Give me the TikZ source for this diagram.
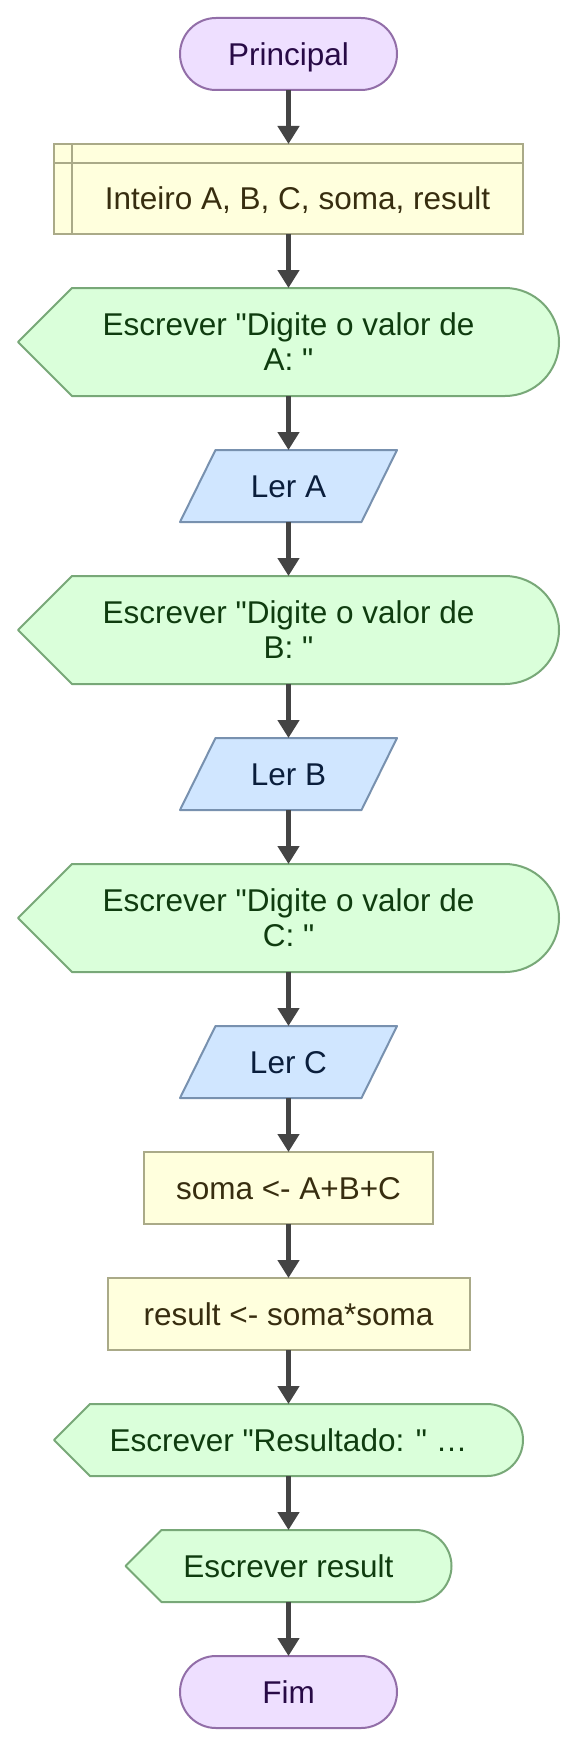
\documentclass[tikz,border=0pt]{standalone}
\usepackage{fontspec}
\setmainfont{Liberation Sans}
\newfontfamily\plainsans{Liberation Sans}
\usetikzlibrary{arrows.meta}
\pgfdeclarelayer{bg}
\pgfsetlayers{bg,main}
\definecolor{termfill}{RGB}{238,223,255}
\definecolor{termdraw}{RGB}{146,110,168}
\definecolor{termtext}{RGB}{40,10,70}
\definecolor{procfill}{RGB}{255,255,221}
\definecolor{procdraw}{RGB}{170,170,136}
\definecolor{proctext}{RGB}{55,45,15}
\definecolor{outfill}{RGB}{218,255,218}
\definecolor{outdraw}{RGB}{120,168,120}
\definecolor{outtext}{RGB}{15,60,15}
\definecolor{infill}{RGB}{208,230,255}
\definecolor{indraw}{RGB}{120,145,175}
\definecolor{intext}{RGB}{10,30,60}
\definecolor{arrcol}{RGB}{68,68,68}
\begin{document}
\begin{tikzpicture}[x=1pt,y=-1pt,
  every node/.style={inner sep=0pt, outer sep=0pt},
  lbl/.style={font=\plainsans\fontsize{31.5pt}{35pt}\selectfont, align=center},
  one/.style={lbl, text height=22.7pt, text depth=0pt},
  term/.style={one, draw=termdraw, fill=termfill, text=termtext, line width=2pt,
    rounded corners=36pt, minimum width=217pt, minimum height=72pt},
  proc/.style={one, draw=procdraw, fill=procfill, text=proctext, line width=2pt, minimum height=72pt},
  outnode/.style={text=outtext},
  innode/.style={one, text=intext, minimum width=217pt, minimum height=72pt},
  outsh/.style={draw=outdraw, fill=outfill, line width=2pt, line join=round},
  insh/.style={draw=indraw, fill=infill, line width=2pt, line join=round},
  arr/.style={draw=arrcol, line width=4.5pt, -{Triangle[width=21pt,length=18pt]}}
]
\useasboundingbox (0,0) rectangle (577,1747);

% nodes
\node[term] (p) at (288.5,54) {Principal};
\node[draw=procdraw, fill=procfill, line width=2pt, minimum width=469pt, minimum height=90pt] (d) at (288.5,189) {};
\draw[procdraw, line width=2pt] ([xshift=18pt]d.north west) -- ([xshift=18pt]d.south west);
\draw[procdraw, line width=2pt] ([yshift=-19pt]d.north west) -- ([yshift=-19pt]d.north east);
\node[one, text=proctext] (dt) at (297.5,198.5) {Inteiro A, B, C, soma, result};

\node[lbl, outnode, minimum width=541pt, minimum height=108pt] (ea) at (288.5,342) {Escrever "Digite o valor de\\A: "};
\node[innode] (la) at (288.5,486) {Ler A};
\node[lbl, outnode, minimum width=541pt, minimum height=108pt] (eb) at (288.5,630) {Escrever "Digite o valor de\\B: "};
\node[innode] (lb) at (288.5,774) {Ler B};
\node[lbl, outnode, minimum width=541pt, minimum height=108pt] (ec) at (288.5,918) {Escrever "Digite o valor de\\C: "};
\node[innode] (lc) at (288.5,1062) {Ler C};
\node[proc, minimum width=289pt] (s) at (288.5,1188) {soma <- A+B+C};
\node[proc, minimum width=362pt] (r) at (288.5,1314) {result <- soma*soma};
\node[one, outnode, minimum width=469pt, minimum height=72pt] (er) at (288.5,1440) {Escrever "Resultado: " …};
\node[one, outnode, minimum width=326pt, minimum height=72pt] (ex) at (288.5,1566) {Escrever result};
\node[term] (f) at (288.5,1692) {Fim};

% background and custom shapes
\begin{pgfonlayer}{bg}
\fill[white] (0,0) rectangle (577,1747);
\foreach \n in {ea,eb,ec}{
  \draw[outsh] (\n.west) -- ([xshift=54pt]\n.north west) -- ([xshift=-54pt]\n.north east)
    arc[start angle=-90, end angle=90, radius=54] -- ([xshift=54pt]\n.south west) -- cycle;
}
\foreach \n in {er,ex}{
  \draw[outsh] (\n.west) -- ([xshift=36pt]\n.north west) -- ([xshift=-36pt]\n.north east)
    arc[start angle=-90, end angle=90, radius=36] -- ([xshift=36pt]\n.south west) -- cycle;
}
\foreach \n in {la,lb,lc}{
  \draw[insh] ([xshift=35.5pt]\n.north west) -- (\n.north east) -- ([xshift=-35.5pt]\n.south east) -- (\n.south west) -- cycle;
}
\end{pgfonlayer}

% connectors
\draw[arr] (p.south) -- (d.north);
\draw[arr] (d.south) -- (ea.north);
\draw[arr] (ea.south) -- (la.north);
\draw[arr] (la.south) -- (eb.north);
\draw[arr] (eb.south) -- (lb.north);
\draw[arr] (lb.south) -- (ec.north);
\draw[arr] (ec.south) -- (lc.north);
\draw[arr] (lc.south) -- (s.north);
\draw[arr] (s.south) -- (r.north);
\draw[arr] (r.south) -- (er.north);
\draw[arr] (er.south) -- (ex.north);
\draw[arr] (ex.south) -- (f.north);
\end{tikzpicture}
\end{document}
